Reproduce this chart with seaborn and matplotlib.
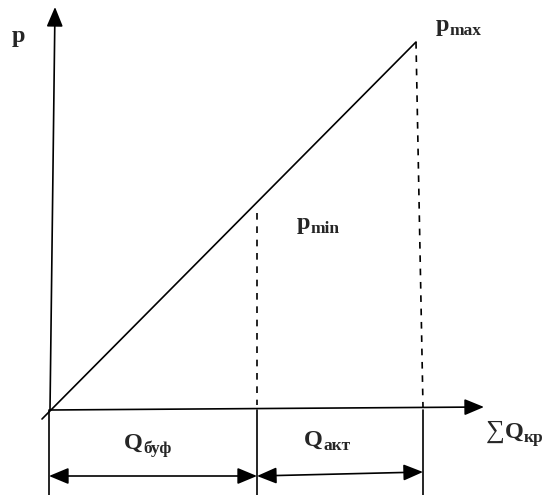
import matplotlib
matplotlib.use("Agg")
import matplotlib.pyplot as plt
import seaborn as sns
import pandas as pd

sns.set_style("white")
plt.rcParams['font.family'] = ['Liberation Serif', 'DejaVu Serif']

# schematic values, origin where the two axes cross
line_q = [-8, 366]          # p grows with the stored volume
line_p = [-9, 368]
q_buf = 207                 # end of the buffer volume
q_akt = 373                 # end of the active volume
p_min_level = 197
p_max_level = 368
axis_q_end = [434, 3]
axis_p_end = [5, 403]
dim_bottom = -85
arrow_buf = [-66, -66]
arrow_akt = [-66, -62]

fig = plt.figure(figsize=(5.52, 4.95), dpi=100)
ax = fig.add_axes([0, 0, 1, 1])
ax.set_xlim(-50, 502)
ax.set_ylim(-85, 410)
ax.axis("off")

LW = 1.2
HEAD = "-|>,head_length=0.6,head_width=0.25"


def seg(xs, ys, **kw):
    sns.lineplot(x=xs, y=ys, color="black", lw=LW, sort=False,
                 estimator=None, ax=ax, **kw)


# axes with arrow heads
ax.annotate("", xy=axis_p_end, xytext=(0, 0),
            arrowprops=dict(arrowstyle=HEAD, color="black", lw=LW,
                            mutation_scale=20, shrinkA=0, shrinkB=0))
ax.annotate("", xy=axis_q_end, xytext=(0, 0),
            arrowprops=dict(arrowstyle=HEAD, color="black", lw=LW,
                            mutation_scale=20, shrinkA=0, shrinkB=0))

# p(Q) line
df = pd.DataFrame({"q": line_q, "p": line_p})
sns.lineplot(data=df, x="q", y="p", color="black", lw=LW, sort=False,
             estimator=None, ax=ax)

# dashed guides
seg([q_buf, q_buf], [p_min_level, 5], linestyle=(0, (4, 4)))
seg([line_q[1], q_akt], [p_max_level, 3], linestyle=(0, (4, 4)))

# extension lines below the axis
for xq in [-1, q_buf, q_akt]:
    seg([xq, xq], [0, dim_bottom])

# dimension arrows
DBL = "<|-|>,head_length=0.6,head_width=0.25"
ax.annotate("", xy=(q_buf, arrow_buf[1]), xytext=(-1, arrow_buf[0]),
            arrowprops=dict(arrowstyle=DBL, color="black", lw=LW,
                            mutation_scale=20, shrinkA=0, shrinkB=0))
ax.annotate("", xy=(q_akt, arrow_akt[1]), xytext=(q_buf, arrow_akt[0]),
            arrowprops=dict(arrowstyle=DBL, color="black", lw=LW,
                            mutation_scale=20, shrinkA=0, shrinkB=0))

MAIN = 17.5
SUB = 12.5


def label(px, py, main, sub=None, drop=-2):
    # px, py are picture positions of the baseline start
    t = ax.text(px - 50, 410 - py, main, fontsize=MAIN, fontweight="bold",
                ha="left", va="baseline")
    if sub:
        ax.annotate(sub, xy=(1, 0), xycoords=t, xytext=(0.3, drop),
                    textcoords="offset points", fontsize=SUB,
                    fontweight="bold", ha="left", va="bottom")
    return t


label(12, 42, "p")
label(436, 31, "p", "max")
label(297, 229, "p", "min")
label(124, 449, "Q", "буф")
label(304, 446, "Q", "акт")
s = ax.text(486 - 50, 410 - 438, "∑", fontsize=19, ha="left", va="baseline")
q = ax.annotate("Q", xy=(1, 0), xycoords=s, xytext=(0, 0),
                textcoords="offset points", fontsize=MAIN, fontweight="bold",
                ha="left", va="bottom")
ax.annotate("кр", xy=(1, 0), xycoords=q, xytext=(0.3, -2),
            textcoords="offset points", fontsize=SUB, fontweight="bold",
            ha="left", va="bottom")

fig.savefig("out.png", dpi=100)
